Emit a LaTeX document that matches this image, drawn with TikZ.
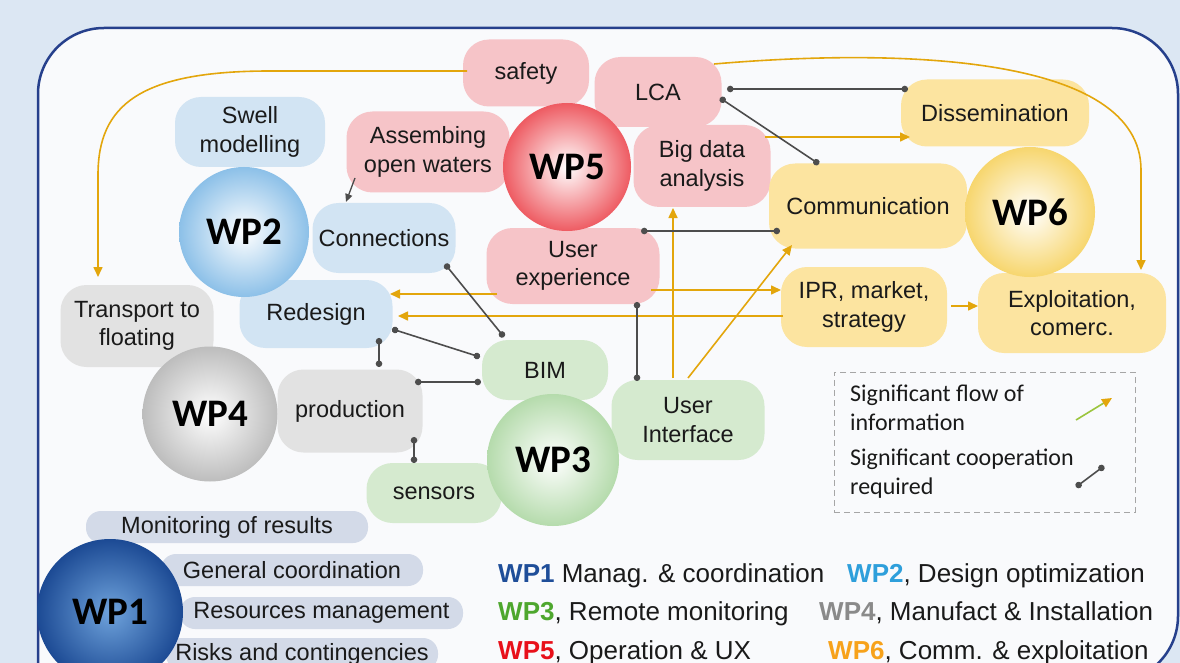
\documentclass[tikz,border=0pt]{standalone}
\usepackage{fontspec}
\setmainfont{Liberation Sans}
\newfontfamily\calfont{Carlito}
\usetikzlibrary{arrows.meta}
\definecolor{bgblue}{HTML}{DCE7F3}
\definecolor{framecol}{HTML}{26408C}
\definecolor{innerfill}{HTML}{F9FAFC}
\definecolor{pinkblob}{HTML}{F6C4C8}
\definecolor{blueblob}{HTML}{D2E4F3}
\definecolor{grayblob}{HTML}{E2E2E2}
\definecolor{greenblob}{HTML}{D5EACF}
\definecolor{yellowblob}{HTML}{FCE4A0}
\definecolor{pillcol}{HTML}{D3DAE8}
\definecolor{flowcol}{HTML}{E3A60C}
\definecolor{coopcol}{HTML}{4D4D4D}
\definecolor{txt}{HTML}{1A1A1A}
\definecolor{cA}{HTML}{1F4E99}
\definecolor{cB}{HTML}{2E9FDB}
\definecolor{cC}{HTML}{4EA72E}
\definecolor{cD}{HTML}{8A8A8A}
\definecolor{cE}{HTML}{E8101A}
\definecolor{cF}{HTML}{F7A21B}
\definecolor{oB}{HTML}{8CC0E8}
\definecolor{oE}{HTML}{EE5B62}
\definecolor{oD}{HTML}{BDBDBD}
\definecolor{oC}{HTML}{B5DBAC}
\definecolor{oF}{HTML}{F7D66E}
\definecolor{oA}{HTML}{1C4A94}
\definecolor{iA}{HTML}{6FA3DC}
\definecolor{legline}{HTML}{9BC53D}
\begin{document}
\begin{tikzpicture}[x=1pt,y=-1pt,
  blob/.style={rectangle, rounded corners=26pt, align=center, inner sep=0pt, text=txt,
    font=\fontsize{23.5}{28.5}\selectfont},
  pill/.style={rectangle, rounded corners=15pt, fill=pillcol, minimum height=32pt, inner sep=0pt,
    text=txt, font=\fontsize{23.5}{28}\selectfont},
  sphere/.style={circle, inner sep=0pt, text=black, font=\calfont\bfseries\fontsize{39}{40}\selectfont},
  flow/.style={draw=flowcol, line width=1.6pt, -{Triangle[length=10pt,width=9pt]}},
  coop/.style={draw=coopcol, line width=1.6pt, {Circle[length=6.5pt]}-{Circle[length=6.5pt]}},
  legtext/.style={anchor=base west, inner sep=0pt, text=txt, font=\fontsize{26}{30}\selectfont},
  boxtext/.style={anchor=west, align=left, inner sep=0pt, text=txt, font=\calfont\fontsize{24}{29}\selectfont}
]
\clip (0,0) rectangle (1180,663);
\fill[bgblue] (0,0) rectangle (1180,663);
\filldraw[fill=innerfill, draw=framecol, line width=2.5pt, rounded corners=66pt] (38,800) -- (38,28) -- (1178,28) -- (1178,682) -- (700,682) -- (700,800) -- cycle;

% WP1 pills and sphere
\node[pill, minimum width=282pt] (mon) at (227,527) {Monitoring of results};
\node[pill, minimum width=262pt] (gen) at (292,570) {General coordination};
\node[pill, minimum width=283pt] (res) at (321.5,613) {Resources management};
\node[pill, minimum width=272pt] (risk) at (302,654) {Risks and contingencies};
\node[sphere, minimum size=146pt, inner color=iA, outer color=oA] (wp1) at (110,612) {WP1};

% WP5 blobs
\node[blob, fill=pinkblob, minimum width=126pt, minimum height=67pt] (safety) at (526,73) {safety};
\node[blob, fill=pinkblob, minimum width=127pt, minimum height=70pt] (lca) at (658,92) {LCA};
\node[blob, fill=pinkblob, minimum width=163pt, minimum height=81pt] (assem) at (428,152) {Assembing\\open waters};
\node[blob, fill=pinkblob, minimum width=137pt, minimum height=82pt] (bigdata) at (702,166) {Big data\\analysis};
\node[blob, fill=pinkblob, minimum width=173pt, minimum height=76pt] (ux) at (573,266) {User\\experience};
% WP2 blobs
\node[blob, fill=blueblob, minimum width=150pt, minimum height=70pt] (swell) at (250,132) {Swell\\modelling};
\node[blob, fill=blueblob, minimum width=143pt, minimum height=70pt] (conn) at (384,238) {Connections};
\node[blob, fill=blueblob, minimum width=153pt, minimum height=68pt] (redesign) at (316,314) {Redesign};
% WP4 blobs
\node[blob, fill=grayblob, minimum width=153pt, minimum height=82pt] (transport) at (137,326) {Transport to\\floating};
\node[blob, fill=grayblob, minimum width=145pt, minimum height=83pt] (production) at (350,411) {production};
% WP3 blobs
\node[blob, fill=greenblob, minimum width=126pt, minimum height=60pt] (bim) at (545,370) {BIM};
\node[blob, fill=greenblob, minimum width=135pt, minimum height=60pt] (sensors) at (434,493) {sensors};
\node[blob, fill=greenblob, minimum width=153pt, minimum height=80pt] (ui) at (688,420) {User\\Interface};
% WP6 blobs
\node[blob, fill=yellowblob, minimum width=188pt, minimum height=67pt] (diss) at (995,113) {Dissemination};
\node[blob, fill=yellowblob, minimum width=198pt, minimum height=85pt] (comm) at (868,206) {Communication};
\node[blob, fill=yellowblob, minimum width=166pt, minimum height=80pt] (ipr) at (864,307) {IPR, market,\\strategy};
\node[blob, fill=yellowblob, minimum width=188pt, minimum height=80pt] (expl) at (1072,313) {Exploitation,\\comerc.};

% spheres
\node[sphere, minimum size=130pt, inner color=white, outer color=oB] (wp2) at (244,232) {WP2};
\node[sphere, minimum size=128pt, inner color=white, outer color=oE] (wp5) at (567,167) {WP5};
\node[sphere, minimum size=135pt, inner color=white, outer color=oD] (wp4) at (210,414) {WP4};
\node[sphere, minimum size=132pt, inner color=white, outer color=oC] (wp3) at (553,460) {WP3};
\node[sphere, minimum size=130pt, inner color=white, outer color=oF] (wp6) at (1030,212) {WP6};

% flow of information
\draw[flow] ([shift={(-59pt,2pt)}]safety.center) -- (270,71) .. controls (140,71) and (98,105) .. (98,175) -- ([shift={(-39pt,49pt)}]transport.center);
\draw[flow] ([shift={(56pt,28pt)}]lca.center) .. controls (900,48) and (1141,55) .. (1141,170) -- ([shift={(69pt,43pt)}]expl.center);
\draw[flow] ([shift={(63pt,29pt)}]bigdata.center) -- ([shift={(-85pt,-24pt)}]diss.center);
\draw[flow] ([shift={(-76pt,-28pt)}]ux.center) -- ([shift={(74pt,20pt)}]redesign.center);
\draw[flow] ([shift={(-81pt,-9pt)}]ipr.center) -- ([shift={(82pt,-2pt)}]redesign.center);
\draw[flow] ([shift={(78pt,-24pt)}]ux.center) -- ([shift={(-83pt,17pt)}]ipr.center);
\draw[flow] ([shift={(87pt,1pt)}]ipr.center) -- ([shift={(-94pt,7pt)}]expl.center);
\draw[flow] ([shift={(-15pt,42pt)}]ui.center) -- ([shift={(-29pt,-42pt)}]bigdata.center);
\draw[flow] ([shift={(0pt,42pt)}]ui.center) -- ([shift={(-76pt,-39pt)}]comm.center);

% cooperation
\draw[coop] ([shift={(69pt,3pt)}]lca.center) -- ([shift={(-87pt,24pt)}]diss.center);
\draw[coop] ([shift={(62pt,-6pt)}]lca.center) -- ([shift={(-49pt,42pt)}]comm.center);
\draw[coop] ([shift={(68pt,35pt)}]ux.center) -- ([shift={(-88pt,-25pt)}]comm.center);
\draw[coop] ([shift={(61pt,-26pt)}]conn.center) -- ([shift={(-41pt,33pt)}]bim.center);
\draw[coop] ([shift={(76pt,-15pt)}]redesign.center) -- ([shift={(-65pt,13pt)}]bim.center);
\draw[coop] ([shift={(63pt,-24pt)}]redesign.center) -- ([shift={(29pt,44pt)}]production.center);
\draw[coop] ([shift={(65pt,29pt)}]production.center) -- ([shift={(-64pt,-12pt)}]bim.center);
\draw[coop] ([shift={(64pt,-26pt)}]production.center) -- ([shift={(-20pt,30pt)}]sensors.center);
\draw[coop] ([shift={(64pt,-36pt)}]ux.center) -- ([shift={(-51pt,39pt)}]ui.center);
\draw[draw=coopcol, line width=1.3pt, -{Triangle[length=8pt,width=7pt]}] ([shift={(-73pt,-26pt)}]assem.center) -- ([shift={(-38pt,36pt)}]conn.center);

% legend box
\node[draw=gray!70, dashed, dash pattern=on 6pt off 4pt, line width=1pt, minimum width=301pt, minimum height=140pt, inner sep=0pt] (legbox) at (984.5,442) {};
\node[boxtext] (flowtxt) at (850,407.5) {Significant flow of\\information};
\node[boxtext] (cooptxt) at (850,474) {Significant cooperation\\required};
\coordinate (lfA) at (1076,420);
\coordinate (lfB) at (1112,398);
\coordinate (lcA) at (1076,487);
\coordinate (lcB) at (1104,466);
\draw[draw=legline, line width=1.6pt, -{Triangle[length=10pt,width=9pt,color=flowcol]}] (lfA) -- (lfB);
\draw[coop] (lcA) -- (lcB);

% bottom legend
\node[legtext] (l1) at (498,582) {\textcolor{cA}{\textbf{WP1}} Manag. \& coordination};
\node[legtext] (l2) at (847,582) {\textcolor{cB}{\textbf{WP2}}, Design optimization};
\node[legtext] (l3) at (498,620) {\textcolor{cC}{\textbf{WP3}}, Remote monitoring};
\node[legtext] (l4) at (819,620) {\textcolor{cD}{\textbf{WP4}}, Manufact \& Installation};
\node[legtext] (l5) at (498,659) {\textcolor{cE}{\textbf{WP5}}, Operation \& UX};
\node[legtext] (l6) at (828,659) {\textcolor{cF}{\textbf{WP6}}, Comm. \& exploitation};
\end{tikzpicture}
\end{document}
